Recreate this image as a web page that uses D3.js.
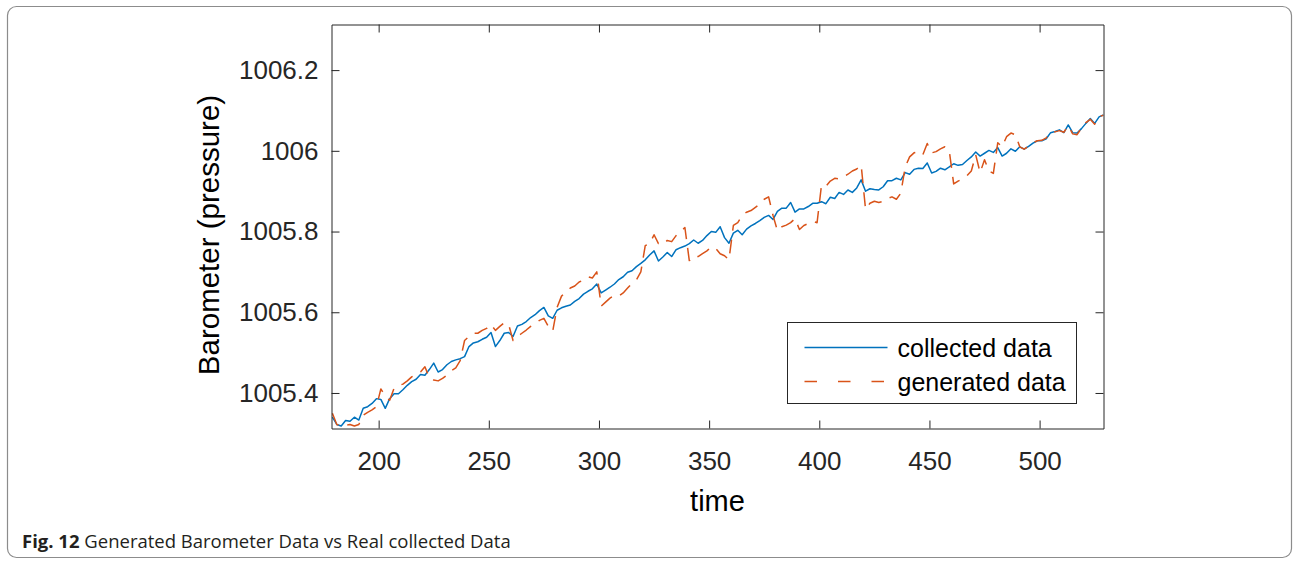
<!DOCTYPE html>
<html>
<head>
<meta charset="utf-8">
<script src="https://cdn.jsdelivr.net/npm/d3@7"></script>
<style>
  body { margin: 0; background: #fff; }
  .axis text { font-family: "Liberation Sans", Arial, sans-serif; font-size: 26px; fill: #262626; }
  .axis path, .axis line { stroke: #262626; stroke-width: 1; }
</style>
</head>
<body>
<div id="chart"></div>
<script>
// sample times (every 2 time units)
var time = d3.range(179, 530, 2);

var collected = [
  1005.340, 1005.322, 1005.318, 1005.332, 1005.330, 1005.340, 1005.333, 1005.362, 1005.366, 1005.374,
  1005.386, 1005.384, 1005.362, 1005.386, 1005.398, 1005.398, 1005.408, 1005.419, 1005.428, 1005.434,
  1005.446, 1005.444, 1005.458, 1005.474, 1005.452, 1005.458, 1005.470, 1005.478, 1005.482, 1005.485,
  1005.490, 1005.515, 1005.524, 1005.527, 1005.533, 1005.538, 1005.550, 1005.515, 1005.530, 1005.548,
  1005.550, 1005.540, 1005.566, 1005.570, 1005.577, 1005.587, 1005.594, 1005.604, 1005.612, 1005.591,
  1005.585, 1005.605, 1005.611, 1005.615, 1005.618, 1005.627, 1005.634, 1005.645, 1005.652, 1005.658,
  1005.670, 1005.648, 1005.655, 1005.662, 1005.670, 1005.681, 1005.688, 1005.699, 1005.703, 1005.713,
  1005.721, 1005.730, 1005.742, 1005.752, 1005.727, 1005.737, 1005.748, 1005.738, 1005.755, 1005.760,
  1005.764, 1005.770, 1005.779, 1005.771, 1005.778, 1005.790, 1005.800, 1005.798, 1005.812, 1005.785,
  1005.771, 1005.796, 1005.803, 1005.792, 1005.806, 1005.814, 1005.820, 1005.827, 1005.835, 1005.840,
  1005.830, 1005.850, 1005.858, 1005.858, 1005.872, 1005.848, 1005.856, 1005.856, 1005.862, 1005.870,
  1005.870, 1005.874, 1005.869, 1005.885, 1005.882, 1005.897, 1005.892, 1005.903, 1005.897, 1005.908,
  1005.928, 1005.900, 1005.906, 1005.904, 1005.903, 1005.911, 1005.926, 1005.926, 1005.932, 1005.928,
  1005.946, 1005.942, 1005.954, 1005.957, 1005.956, 1005.970, 1005.945, 1005.949, 1005.957, 1005.953,
  1005.960, 1005.968, 1005.964, 1005.966, 1005.976, 1005.985, 1005.997, 1005.987, 1005.994, 1006.001,
  1005.996, 1006.008, 1005.987, 1005.994, 1006.005, 1005.999, 1006.010, 1006.004, 1006.011, 1006.019,
  1006.025, 1006.025, 1006.030, 1006.045, 1006.048, 1006.052, 1006.045, 1006.064, 1006.045, 1006.044,
  1006.055, 1006.068, 1006.080, 1006.068, 1006.084, 1006.089
];

var generated = [
  1005.350, 1005.322, 1005.318, 1005.320, 1005.322, 1005.318, 1005.322, 1005.345, 1005.352, 1005.358,
  1005.366, 1005.410, 1005.392, 1005.382, 1005.412, 1005.418, 1005.422, 1005.430, 1005.440, 1005.446,
  1005.452, 1005.465, 1005.438, 1005.432, 1005.430, 1005.436, 1005.444, 1005.455, 1005.462, 1005.480,
  1005.530, 1005.540, 1005.548, 1005.548, 1005.555, 1005.560, 1005.570, 1005.555, 1005.565, 1005.574,
  1005.570, 1005.530, 1005.540, 1005.548, 1005.556, 1005.565, 1005.572, 1005.580, 1005.585, 1005.565,
  1005.553, 1005.612, 1005.640, 1005.650, 1005.660, 1005.665, 1005.675, 1005.680, 1005.688, 1005.685,
  1005.700, 1005.615, 1005.625, 1005.635, 1005.642, 1005.640, 1005.648, 1005.660, 1005.672, 1005.680,
  1005.700, 1005.765, 1005.770, 1005.792, 1005.770, 1005.768, 1005.778, 1005.775, 1005.790, 1005.800,
  1005.810, 1005.728, 1005.740, 1005.738, 1005.745, 1005.752, 1005.762, 1005.758, 1005.745, 1005.740,
  1005.730, 1005.815, 1005.822, 1005.840, 1005.848, 1005.852, 1005.860, 1005.868, 1005.880, 1005.886,
  1005.840, 1005.802, 1005.812, 1005.816, 1005.822, 1005.832, 1005.805, 1005.815, 1005.820, 1005.825,
  1005.822, 1005.915, 1005.912, 1005.925, 1005.932, 1005.930, 1005.935, 1005.942, 1005.950, 1005.955,
  1005.965, 1005.855, 1005.870, 1005.875, 1005.872, 1005.875, 1005.882, 1005.886, 1005.880, 1005.895,
  1005.960, 1005.985, 1005.995, 1005.998, 1005.990, 1006.018, 1005.995, 1005.998, 1006.005, 1006.010,
  1006.000, 1005.918, 1005.925, 1005.930, 1005.938, 1005.950, 1005.990, 1005.946, 1005.978, 1005.950,
  1005.944, 1006.020, 1006.010, 1006.035, 1006.044, 1006.040, 1006.010, 1006.004, 1006.012, 1006.020,
  1006.025, 1006.026, 1006.032, 1006.045, 1006.047, 1006.050, 1006.046, 1006.062, 1006.042, 1006.040,
  1006.056, 1006.070, 1006.078, 1006.066, 1006.085, 1006.088
];

var xTicks = [200, 250, 300, 350, 400, 450, 500];
var yTicks = [1005.4, 1005.6, 1005.8, 1006, 1006.2];
var seriesNames = ['collected data', 'generated data'];
var seriesColors = ['#0072BD', '#D95319'];

var width = 1294, height = 564;
var plotLeft = 331.5, plotRight = 1103.5, plotTop = 24.5, plotBottom = 428.5;

var svg = d3.select('#chart').append('svg')
  .attr('width', width)
  .attr('height', height);

// outer figure frame
svg.append('rect')
  .attr('x', 7.5).attr('y', 6.5)
  .attr('width', 1284).attr('height', 551)
  .attr('rx', 9).attr('ry', 9)
  .attr('fill', 'none')
  .attr('stroke', '#8c8c8c')
  .attr('stroke-width', 1.2);

var x = d3.scaleLinear().domain([178.6, 529]).range([plotLeft, plotRight]);
var y = d3.scaleLinear().domain([1005.312, 1006.313]).range([plotBottom, plotTop]);

svg.append('clipPath').attr('id', 'clip')
  .append('rect')
  .attr('x', plotLeft).attr('y', plotTop)
  .attr('width', plotRight - plotLeft).attr('height', plotBottom - plotTop);

var line = d3.line()
  .x(function(d) { return x(d[0]); })
  .y(function(d) { return y(d[1]); });

var plot = svg.append('g').attr('clip-path', 'url(#clip)');

plot.append('path')
  .datum(time.map(function(t, i) { return [t, collected[i]]; }))
  .attr('d', line)
  .attr('fill', 'none')
  .attr('stroke', seriesColors[0])
  .attr('stroke-width', 1.5)
  .attr('stroke-linejoin', 'round');

plot.append('path')
  .datum(time.map(function(t, i) { return [t, generated[i]]; }))
  .attr('d', line)
  .attr('fill', 'none')
  .attr('stroke', seriesColors[1])
  .attr('stroke-width', 1.5)
  .attr('stroke-dasharray', '14,9')
  .attr('stroke-linejoin', 'round');

// axes, ticks pointing inwards, box on all four sides
svg.append('g').attr('class', 'axis')
  .attr('transform', 'translate(0,' + plotBottom + ')')
  .call(d3.axisBottom(x).tickValues(xTicks).tickSizeInner(-8).tickSizeOuter(0).tickPadding(23));

svg.append('g').attr('class', 'axis')
  .attr('transform', 'translate(0,' + plotTop + ')')
  .call(d3.axisTop(x).tickValues(xTicks).tickSizeInner(-8).tickSizeOuter(0).tickFormat(''));

svg.append('g').attr('class', 'axis')
  .attr('transform', 'translate(' + plotLeft + ',0)')
  .call(d3.axisLeft(y).tickValues(yTicks).tickSizeInner(-8).tickSizeOuter(0).tickPadding(13)
    .tickFormat(function(d) { return d3.format('')(+d.toFixed(1)); }));

svg.append('g').attr('class', 'axis')
  .attr('transform', 'translate(' + plotRight + ',0)')
  .call(d3.axisRight(y).tickValues(yTicks).tickSizeInner(-8).tickSizeOuter(0).tickFormat(''));

svg.selectAll('.axis .domain').attr('stroke', '#262626');

// axis titles
svg.append('text')
  .attr('x', (plotLeft + plotRight) / 2)
  .attr('y', 511)
  .attr('text-anchor', 'middle')
  .style('font-family', '"Liberation Sans", Arial, sans-serif')
  .style('font-size', '29px')
  .style('fill', '#000')
  .text('time');

svg.append('text')
  .attr('transform', 'translate(219,' + 235 + ') rotate(-90)')
  .attr('text-anchor', 'middle')
  .style('font-family', '"Liberation Sans", Arial, sans-serif')
  .style('font-size', '29.5px')
  .style('fill', '#000')
  .text('Barometer (pressure)');

// legend
var legend = svg.append('g').attr('transform', 'translate(787.5,322.5)');
legend.append('rect')
  .attr('width', 289).attr('height', 81)
  .attr('fill', '#fff')
  .attr('stroke', '#262626')
  .attr('stroke-width', 1);

seriesNames.forEach(function(name, i) {
  var ly = 25 + i * 34;
  legend.append('line')
    .attr('x1', 17).attr('x2', 100)
    .attr('y1', ly).attr('y2', ly)
    .attr('stroke', seriesColors[i])
    .attr('stroke-width', 1.5)
    .attr('stroke-dasharray', i === 1 ? '12.5,21' : null);
  legend.append('text')
    .attr('x', 110).attr('y', ly + 9)
    .style('font-family', '"Liberation Sans", Arial, sans-serif')
    .style('font-size', '25px')
    .style('fill', '#000')
    .text(name);
});

// caption
var caption = svg.append('text')
  .attr('x', 22).attr('y', 548)
  .style('font-family', '"Open Sans", "Noto Sans", sans-serif')
  .style('font-size', '18.5px')
  .style('fill', '#231f20');
caption.append('tspan').style('font-weight', 'bold').text('Fig. 12');
caption.append('tspan').text(' Generated Barometer Data vs Real collected Data');
</script>
</body>
</html>
